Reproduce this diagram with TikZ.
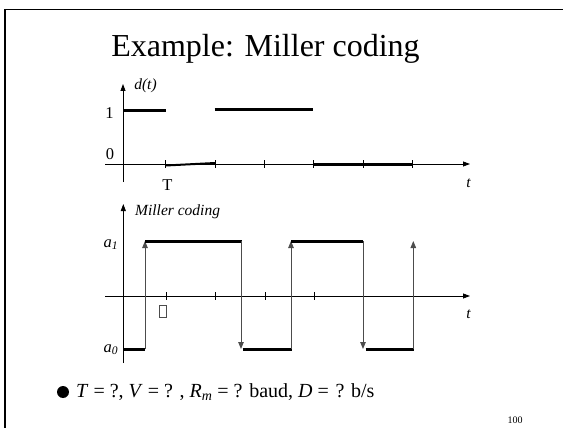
\documentclass[tikz,border=0pt]{standalone}
\usepackage{fontspec}
\setmainfont{Liberation Serif}
\usepackage{tikz}
\usetikzlibrary{arrows.meta}

\tikzset{
  axis/.style={line width=0.8pt, -{Triangle[length=7pt,width=5pt]}},
  level/.style={line width=3pt},
  jump/.style={draw=black!70, line width=0.9pt, -{Triangle[length=7pt,width=5.5pt]}},
  lbl/.style={inner sep=0pt, anchor=base, font=\fontsize{16.5}{19}\selectfont},
  ilbl/.style={lbl, font=\fontsize{15.5}{18}\selectfont\itshape}
}

\begin{document}
\begin{tikzpicture}[x=1pt, y=-1pt]
        \useasboundingbox (0,0) rectangle (563,428);

        % Frame
        \draw[line width=1.2pt] (5,430) -- (5,9.5) -- (565,9.5);

        % Title
        \node[inner sep=0pt, anchor=base, font=\fontsize{32}{38}\selectfont] (title) at (265.5,57) {Example: Miller coding};

        % Axes (data)
        \draw[axis] (105,164) -- (470,164);
        \draw[axis] (123,182) -- (123,84);
        \node[ilbl] (dt) at (145.5,90) {d(t)};
        \node[ilbl] (t1) at (468.5,187) {t};
        \node[lbl] (one) at (109.5,118) {1};
        \node[lbl] (zero) at (110,160) {0};
        \node[lbl] (T) at (167.5,190.5) {T};

        % Tick marks (data)
        \foreach \x in {165.7,215,264,313,363,412}
            \draw[line width=0.8pt] (\x,160) -- (\x,168);

        % Data signal
        \draw[level] (123,110.5) -- (165.5,110.5);
        \draw[line width=2pt] (165.7,165.5) -- (215,163);
        \draw[level] (214.5,110) -- (313,110);
        \draw[level] (313,164) -- (412,164);

        % Axes (Miller)
        \draw[axis] (105,296) -- (470,296);
        \draw[axis] (123.3,363) -- (123.3,204);
        \node[ilbl, anchor=base west] (mc) at (135,215) {Miller coding};
        \node[ilbl] (t2) at (468.5,318) {t};
        \node[lbl, anchor=base] (a1) at (111,247) {\textit{a\textsubscript{1}}};
        \node[lbl, anchor=base] (a0) at (111,352) {\textit{a\textsubscript{0}}};
        \node[draw=black!70, line width=0.6pt, minimum width=7pt, minimum height=12pt, inner sep=0pt] (box) at (163,311) {};

        % Tick marks (Miller)
        \foreach \x in {166.7,215.7,265,314,363,413}
            \draw[line width=0.8pt] (\x,292) -- (\x,300);

        % Miller signal
        \draw[level] (123.3,349.3) -- (145,349.3);
        \draw[jump] (145,349.3) -- (145,241);
        \draw[level] (145,241) -- (241.5,241);
        \draw[jump] (241,241) -- (241,349);
        \draw[level] (242.5,349.3) -- (291.5,349.3);
        \draw[jump] (291,349.3) -- (291,241);
        \draw[level] (291,241) -- (363,241);
        \draw[jump] (363,241) -- (363,349);
        \draw[level] (365.5,349.3) -- (414,349.3);
        \draw[jump] (413.3,349.3) -- (413.3,241);

        % Question line
        \fill (63,392) circle (6pt);
        \node[inner sep=0pt, anchor=base west, font=\fontsize{20}{24}\selectfont] (q) at (76,397)
            {\textit{T} = ?, \textit{V} = ?\,\,, \textit{R\textsubscript{m}} = ? baud, \textit{D} =\,\,? b/s};
        \node[inner sep=0pt, anchor=base, font=\fontsize{10}{12}\selectfont] (page) at (515,423) {100};
\end{tikzpicture}
\end{document}
